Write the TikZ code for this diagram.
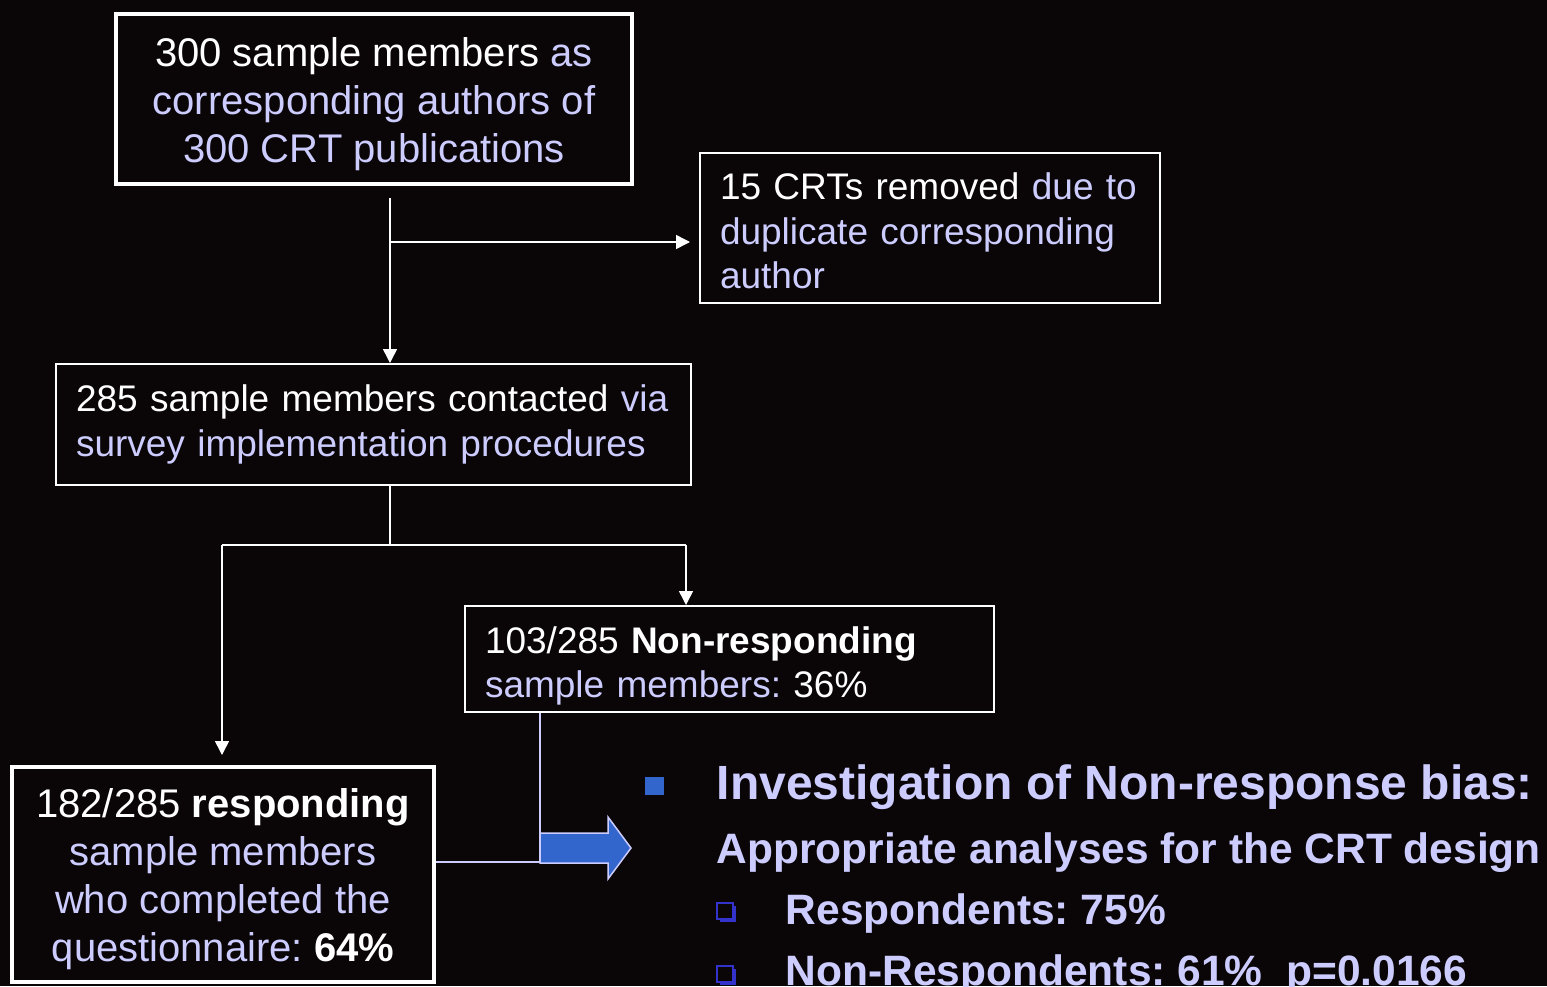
\documentclass[tikz,border=0pt]{standalone}
\usepackage{fontspec}
\setmainfont{Liberation Sans}
\frenchspacing
\usetikzlibrary{arrows.meta,shadows}

\definecolor{bg}{RGB}{10,5,6}
\definecolor{lav}{RGB}{204,204,255}
\definecolor{arrowblue}{RGB}{51,102,204}
\definecolor{bulletblue}{RGB}{51,51,204}
\newcommand{\wh}[1]{\textcolor{white}{#1}}
\newcommand{\topsp}[1]{\rule{0pt}{#1pt}}

\tikzset{
    bigbox/.style={draw=white, line width=4pt, align=center, text=lav, inner sep=0pt,
        font=\fontsize{40}{48}\selectfont},
    smallbox/.style={draw=white, line width=2pt, align=left, text=lav, inner xsep=20pt, inner ysep=0pt,
        font=\fontsize{37}{44.5}\selectfont},
    headtext/.style={anchor=base west, inner sep=0pt, text=lav, font=\fontsize{48}{56}\selectfont\bfseries},
    subtext/.style={anchor=base west, inner sep=0pt, text=lav, font=\fontsize{42.5}{50}\selectfont\bfseries},
    hollowbullet/.style={draw=bulletblue, fill=bg, line width=1.5pt, minimum size=16pt, inner sep=0pt,
        drop shadow={shadow xshift=3pt, shadow yshift=-3pt, fill=bulletblue, opacity=1}}
}

\begin{document}
\begin{tikzpicture}[x=1pt, y=-1pt, line width=1.5pt, >={Triangle[length=14pt,width=14pt]}]
    \fill[bg] (0,0) rectangle (1547,986);
    \useasboundingbox (0,0) rectangle (1547,986);

    % boxes
    \node[bigbox, minimum width=516pt, minimum height=170pt] (pool) at (374,98.5)
        {\topsp{41}\wh{300 sample members} as\\corresponding authors of\\300 CRT publications};
    \node[smallbox, text width=420pt, minimum height=150pt] (dup) at (930,228)
        {\topsp{33}\wh{15 CRTs removed} due to\\duplicate corresponding\\author};
    \node[smallbox, text width=595pt, minimum height=121pt] (contact) at (373.5,424.5)
        {\wh{285 sample members contacted} via\\survey implementation procedures};
    \node[smallbox, text width=489pt, minimum height=106pt] (nonresp) at (729.5,659)
        {\topsp{41}\wh{103/285 \textbf{Non-responding}}\\sample members: \wh{36\%}};
    \node[bigbox, minimum width=422pt, minimum height=215pt] (resp) at (223,874.5)
        {\topsp{39}\wh{182/285 \textbf{responding}}\\sample members\\who completed the\\questionnaire: \wh{\textbf{64\%}}};

    % connectors
    \coordinate (s1) at (390,198);
    \coordinate (s2) at (390,242);
    \coordinate (s3) at (390,545);
    \coordinate (s4) at (222,545);
    \coordinate (s5) at (686,545);
    \coordinate (s6) at (540,862);
    \draw[white,->] (s1) -- (s1 |- contact.north);
    \draw[white,->] (s2) -- ([xshift=-9pt]s2 -| dup.west);
    \draw[white] (contact.south -| s3) -- (s3);
    \draw[white] (s4) -- (s5);
    \draw[white,->] (s4) -- ([yshift=10pt]s4 |- resp.north);
    \draw[white,->] (s5) -- (s5 |- nonresp.north);
    \draw[lav] (s6 |- nonresp.south) -- (s6) -- (resp.east |- s6);

    % block arrow
    \filldraw[fill=arrowblue, draw=lav] (540,833) -- (608,833) -- (608,817) -- (631,848)
        -- (608,879) -- (608,863) -- (540,863) -- cycle;

    % result text
    \fill[arrowblue] (645,777) rectangle (664,795);
    \node[headtext] (inv) at (716,799) {Investigation of Non-response bias:};
    \node[subtext] (app) at (716,863) {Appropriate analyses for the CRT design};
    \node[hollowbullet] (q1) at (725,911) {};
    \node[subtext] (r1) at (785,924) {Respondents: 75\%};
    \node[hollowbullet] (q2) at (725,974) {};
    \node[subtext] (r2) at (785,985) {Non-Respondents: 61\%\ \ p=0.0166};
\end{tikzpicture}
\end{document}
